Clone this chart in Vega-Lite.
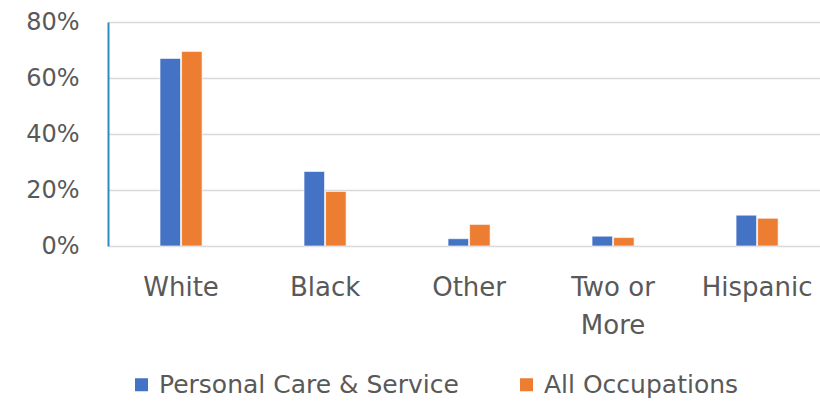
{
  "$schema": "https://vega.github.io/schema/vega-lite/v6.json",
  "width": 712,
  "height": 224,
  "autosize": {"type": "none"},
  "padding": {"left": 108, "top": 22, "right": 0, "bottom": 155},
  "background": "white",
  "config": {
    "view": {"stroke": null},
    "font": "DejaVu Sans"
  },
  "data": {
    "values": [
      {"group": "White", "series": "Personal Care & Service", "value": 0.670},
      {"group": "White", "series": "All Occupations", "value": 0.695},
      {"group": "Black", "series": "Personal Care & Service", "value": 0.266},
      {"group": "Black", "series": "All Occupations", "value": 0.195},
      {"group": "Other", "series": "Personal Care & Service", "value": 0.026},
      {"group": "Other", "series": "All Occupations", "value": 0.077},
      {"group": "Two or More", "series": "Personal Care & Service", "value": 0.035},
      {"group": "Two or More", "series": "All Occupations", "value": 0.030},
      {"group": "Hispanic", "series": "Personal Care & Service", "value": 0.110},
      {"group": "Hispanic", "series": "All Occupations", "value": 0.099}
    ]
  },
  "mark": {"type": "bar", "stroke": "white", "strokeWidth": 0.6},
  "encoding": {
    "x": {
      "field": "group",
      "type": "nominal",
      "sort": ["White", "Black", "Other", "Two or More", "Hispanic"],
      "scale": {"paddingInner": 0.708, "paddingOuter": 0.326, "align": 0.554},
      "axis": {
        "title": null,
        "labelAngle": 0,
        "domain": false,
        "ticks": false,
        "labelFontSize": 26,
        "labelColor": "#595959",
        "labelPadding": 28,
        "labelLineHeight": 38,
        "labelLimit": 300,
        "labelExpr": "datum.label == 'Two or More' ? ['Two or', 'More'] : datum.label"
      }
    },
    "xOffset": {
      "field": "series",
      "type": "nominal",
      "sort": ["Personal Care & Service", "All Occupations"],
      "scale": {"paddingInner": 0.05}
    },
    "y": {
      "field": "value",
      "type": "quantitative",
      "scale": {"domain": [0, 0.8], "nice": false},
      "axis": {
        "title": null,
        "format": ".0%",
        "values": [0, 0.2, 0.4, 0.6, 0.8],
        "ticks": false,
        "domainColor": "#2E8BC0",
        "domainWidth": 2,
        "gridColor": "#D9D9D9",
        "gridWidth": 1.5,
        "labelFontSize": 24,
        "labelColor": "#595959",
        "labelPadding": 29
      }
    },
    "color": {
      "field": "series",
      "type": "nominal",
      "sort": ["Personal Care & Service", "All Occupations"],
      "scale": {"range": ["#4472C4", "#ED7D31"]},
      "legend": {
        "title": null,
        "orient": "none",
        "legendX": 21,
        "legendY": 350,
        "padding": 0,
        "direction": "horizontal",
        "symbolType": "square",
        "symbolSize": 169,
        "symbolStrokeWidth": 0,
        "labelFontSize": 25,
        "labelColor": "#595959",
        "labelOffset": 5,
        "labelLimit": 400,
        "columnPadding": 55
      }
    }
  }
}
